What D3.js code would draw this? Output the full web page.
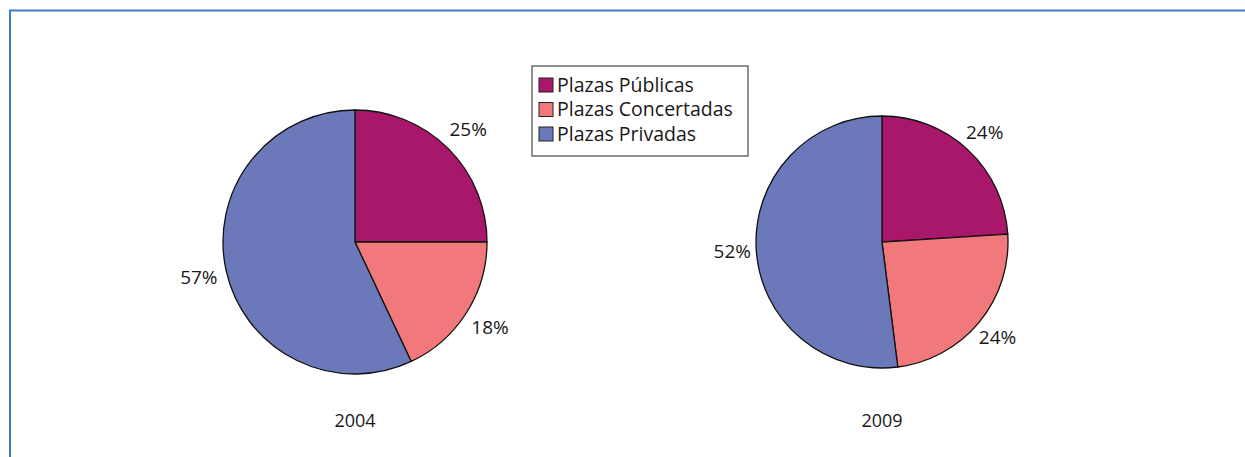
<!DOCTYPE html>
<html>
<head>
<meta charset="utf-8">
<script src="https://cdn.jsdelivr.net/npm/d3@7"></script>
<style>
  body { margin: 0; background: #fff; }
  svg text { font-family: "Open Sans", "Noto Sans", sans-serif; fill: #1a1718; }
</style>
</head>
<body>
<svg id="chart" width="1245" height="457"></svg>
<script>
var categories = ["Plazas Públicas", "Plazas Concertadas", "Plazas Privadas"];
var years = ["2004", "2009"];
var values2004 = [25, 18, 57];
var values2009 = [24, 24, 52];

var colors = d3.scaleOrdinal()
  .domain(categories)
  .range(["#a8176a", "#f2797b", "#6b79bb"]);

var svg = d3.select("#chart");

// frame (top and left edges visible)
svg.append("path")
  .attr("d", "M10,457 V10.5 H1245")
  .attr("fill", "none")
  .attr("stroke", "#3a7fc0")
  .attr("stroke-width", 2);

var pies = [
  { year: years[0], values: values2004, cx: 355, cy: 242, r: 132, lr: 160 },
  { year: years[1], values: values2009, cx: 882, cy: 242, r: 126, lr: 150 }
];

var pie = d3.pie().sort(null).value(function(d) { return d.value; });

pies.forEach(function(p) {
  var data = categories.map(function(c, i) { return { cat: c, value: p.values[i] }; });
  var arcs = pie(data);
  var arc = d3.arc().innerRadius(0).outerRadius(p.r);
  var labelArc = d3.arc().innerRadius(p.lr).outerRadius(p.lr);

  var g = svg.append("g")
    .attr("transform", "translate(" + p.cx + "," + p.cy + ")");

  g.selectAll("path")
    .data(arcs)
    .enter()
    .append("path")
    .attr("d", arc)
    .attr("fill", function(d) { return colors(d.data.cat); })
    .attr("stroke", "#111")
    .attr("stroke-width", 1.3);

  g.selectAll("text.pct")
    .data(arcs)
    .enter()
    .append("text")
    .attr("class", "pct")
    .attr("transform", function(d) { return "translate(" + labelArc.centroid(d) + ")"; })
    .attr("text-anchor", "middle")
    .attr("dy", "0.35em")
    .style("font-size", "19px")
    .text(function(d) { return d.data.value + "%"; });

  svg.append("text")
    .attr("x", p.cx)
    .attr("y", 427)
    .attr("text-anchor", "middle")
    .style("font-size", "18px")
    .text(p.year);
});

// legend
var legend = svg.append("g").attr("transform", "translate(532,66)");
legend.append("rect")
  .attr("width", 216)
  .attr("height", 90)
  .attr("fill", "#fff")
  .attr("stroke", "#222")
  .attr("stroke-width", 1);

var items = legend.selectAll("g.item")
  .data(categories)
  .enter()
  .append("g")
  .attr("class", "item")
  .attr("transform", function(d, i) { return "translate(7," + (12 + i * 24.5) + ")"; });

items.append("rect")
  .attr("width", 14)
  .attr("height", 14)
  .attr("fill", function(d) { return colors(d); })
  .attr("stroke", "#222")
  .attr("stroke-width", 1);

items.append("text")
  .attr("x", 18)
  .attr("y", 7)
  .attr("dy", "0.35em")
  .style("font-size", "19.5px")
  .text(function(d) { return d; });
</script>
</body>
</html>
